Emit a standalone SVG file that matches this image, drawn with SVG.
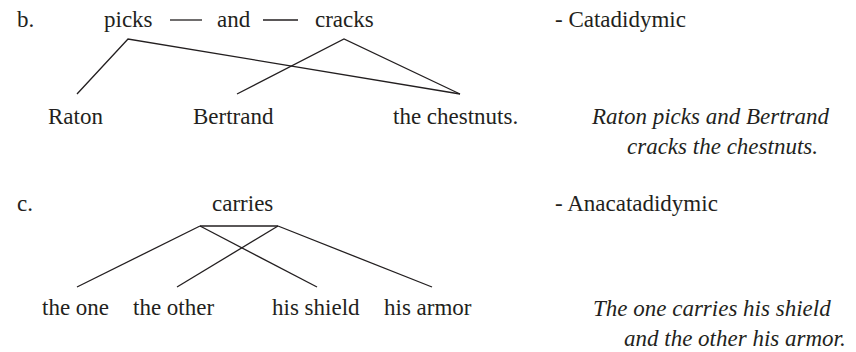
<svg xmlns="http://www.w3.org/2000/svg" width="856" height="352" viewBox="0 0 856 352">
<rect width="856" height="352" fill="#fff"/>
<g id="labels">
<text x="17" y="27" font-family="Liberation Serif" font-size="23" fill="#231f20">b.</text>
<text x="17" y="211" font-family="Liberation Serif" font-size="23" fill="#231f20">c.</text>
<text x="555" y="27" font-family="Liberation Serif" font-size="23" fill="#231f20">- Catadidymic</text>
<text x="555" y="211" font-family="Liberation Serif" font-size="23" fill="#231f20">- Anacatadidymic</text>
<text x="592" y="124" font-family="Liberation Serif" font-style="italic" font-size="23" fill="#231f20">Raton picks and Bertrand</text>
<text x="627" y="154" font-family="Liberation Serif" font-style="italic" font-size="23" fill="#231f20">cracks the chestnuts.</text>
<text x="593" y="316" font-family="Liberation Serif" font-style="italic" font-size="23" fill="#231f20">The one carries his shield</text>
<text x="624" y="346" font-family="Liberation Serif" font-style="italic" font-size="23" fill="#231f20">and the other his armor.</text>
</g>
<g id="node-picks"><text x="104" y="27" font-family="Liberation Serif" font-size="23" fill="#231f20">picks</text></g>
<g id="node-and"><text x="217" y="27" font-family="Liberation Serif" font-size="23" fill="#231f20">and</text></g>
<g id="node-cracks"><text x="315" y="27" font-family="Liberation Serif" font-size="23" fill="#231f20">cracks</text></g>
<g id="node-raton"><text x="48" y="124" font-family="Liberation Serif" font-size="23" fill="#231f20">Raton</text></g>
<g id="node-bertrand"><text x="193" y="124" font-family="Liberation Serif" font-size="23" fill="#231f20">Bertrand</text></g>
<g id="node-chestnuts"><text x="393" y="124" font-family="Liberation Serif" font-size="23" fill="#231f20">the chestnuts.</text></g>
<g id="node-carries"><text x="212" y="211" font-family="Liberation Serif" font-size="23" fill="#231f20">carries</text></g>
<g id="node-theone"><text x="42" y="315" font-family="Liberation Serif" font-size="23" fill="#231f20">the one</text></g>
<g id="node-theother"><text x="133" y="315" font-family="Liberation Serif" font-size="23" fill="#231f20">the other</text></g>
<g id="node-hisshield"><text x="272" y="315" font-family="Liberation Serif" font-size="23" fill="#231f20">his shield</text></g>
<g id="node-hisarmor"><text x="384" y="315" font-family="Liberation Serif" font-size="23" fill="#231f20">his armor</text></g>
<g id="connectors">
<line x1="170" y1="20" x2="202" y2="20" stroke="#231f20" stroke-width="1.3"/>
<line x1="263" y1="20" x2="298" y2="20" stroke="#231f20" stroke-width="1.3"/>
<polyline points="77,94 128,39 460,94" fill="none" stroke="#231f20" stroke-width="1.3"/>
<polyline points="237,94 344,39 460,94" fill="none" stroke="#231f20" stroke-width="1.3"/>
<line x1="200" y1="226" x2="278" y2="226" stroke="#231f20" stroke-width="1.3"/>
<line x1="200" y1="226" x2="77" y2="287" stroke="#231f20" stroke-width="1.3"/>
<line x1="200" y1="226" x2="317" y2="287" stroke="#231f20" stroke-width="1.3"/>
<line x1="278" y1="226" x2="177" y2="287" stroke="#231f20" stroke-width="1.3"/>
<line x1="278" y1="226" x2="432" y2="287" stroke="#231f20" stroke-width="1.3"/>
</g>
</svg>
